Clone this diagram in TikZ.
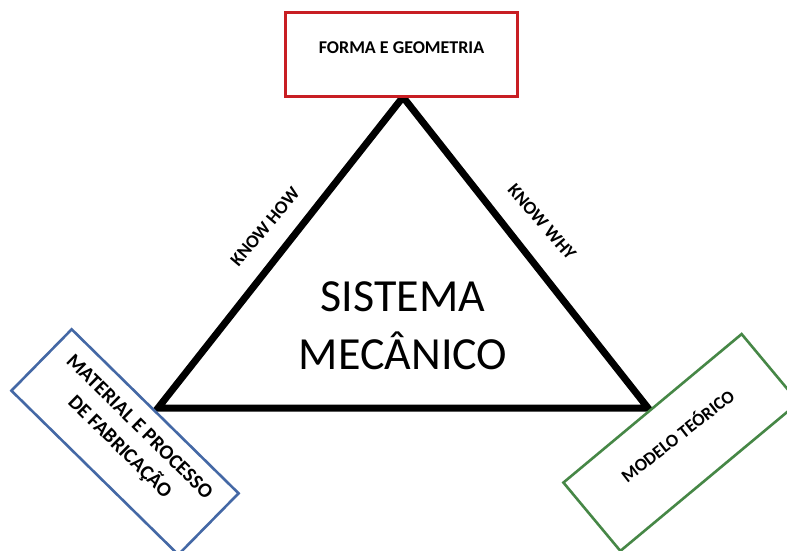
\documentclass[tikz,border=0pt]{standalone}
\usepackage{fontspec}
\setmainfont{Carlito}
\definecolor{boxred}{RGB}{200,30,35}
\definecolor{boxblue}{RGB}{68,104,165}
\definecolor{boxgreen}{RGB}{70,135,70}
\begin{document}
\begin{tikzpicture}[x=1pt,y=-1pt,
  box/.style={draw,line width=2.6pt,fill=white,inner sep=0pt,align=center},
  side/.style={font=\fontsize{18.5}{22}\selectfont\bfseries},
  tri/.style={line width=7pt,line join=miter}]
\useasboundingbox (0,0) rectangle (787,551);
\coordinate (A) at (403,97);
\coordinate (B) at (158,408);
\coordinate (C) at (648,408);
\draw[tri] (A) -- (B) -- (C) -- cycle;
\node[box,draw=boxred,minimum width=232pt,minimum height=84pt] (forma) at (401.5,54.5) {};
\node[font=\fontsize{18}{21}\selectfont\bfseries] (format) at (401.5,48) {FORMA E GEOMETRIA};
\node[box,draw=boxblue,minimum width=234pt,minimum height=86pt,rotate=-44.5] (mat) at (125,442) {};
\node[font=\fontsize{20.5}{28}\selectfont\bfseries,align=center,rotate=-44.6] (matt) at (129,437.5) {MATERIAL E PROCESSO\\DE FABRICAÇÃO};
\node[box,draw=boxgreen,minimum width=232pt,minimum height=89pt,rotate=39.8] (mod) at (681,442.5) {};
\node[font=\fontsize{18}{21}\selectfont\bfseries,rotate=38] (modt) at (677,435) {MODELO TEÓRICO};
\node[side,rotate=50] (how) at (265,227) {KNOW HOW};
\node[side,rotate=-49] (why) at (542,222) {KNOW WHY};
\node[font=\fontsize{46}{58}\selectfont,align=center] (sis) at (403,326) {SISTEMA\\MECÂNICO};
\end{tikzpicture}
\end{document}
